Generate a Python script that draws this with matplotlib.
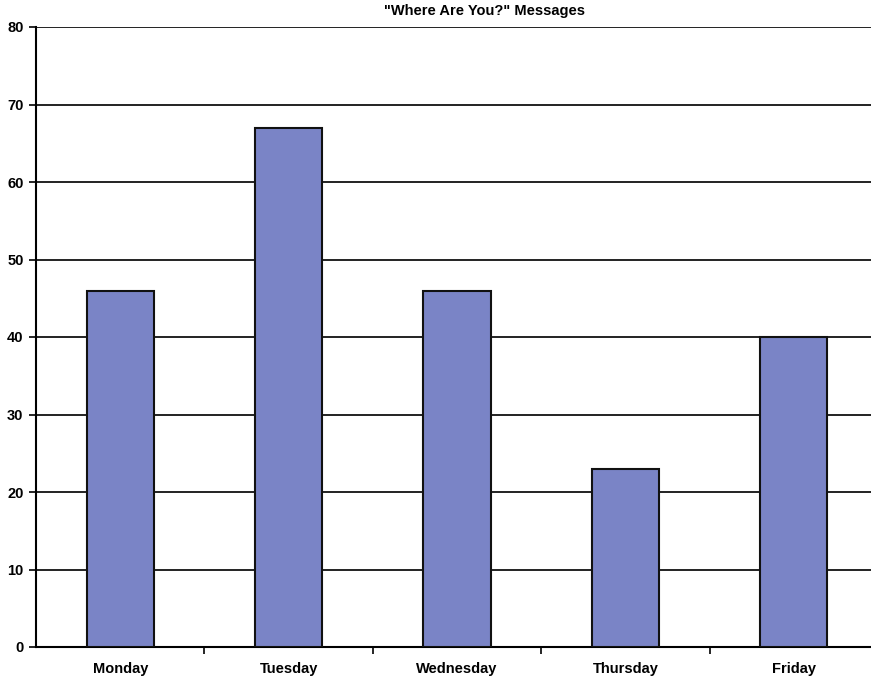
import matplotlib
matplotlib.use("Agg")
import matplotlib.pyplot as plt
import numpy as np

plt.rcParams['font.family'] = ['Liberation Sans', 'DejaVu Sans']

days = ['Monday', 'Tuesday', 'Wednesday', 'Thursday', 'Friday']
messages = [46, 67, 46, 23, 40]

fig = plt.figure(figsize=(8.71, 6.79), dpi=100)
# axes run a little past the right edge of the figure
ax = fig.add_axes([36 / 871, 32 / 679, 842 / 871, 620 / 679])

x = np.arange(len(days))
ax.bar(x, messages, width=0.4, color='#7A84C6', edgecolor='#111111', linewidth=1.5, zorder=3)

ax.set_xlim(-0.5, len(days) - 0.5)
ax.set_ylim(0, 80)
ax.set_yticks(range(0, 81, 10))
ax.yaxis.grid(True, color='#222222', linewidth=1.4, zorder=0)

ax.set_xticks(x)
ax.set_xticklabels(days, fontsize=10.5, fontweight='bold')
ax.tick_params(axis='x', length=0, pad=11)
ax.set_xticks(np.arange(0.5, len(days) - 0.5, 1), minor=True)
ax.tick_params(axis='x', which='minor', length=5, width=1.2, direction='out')
ax.tick_params(axis='y', length=5, width=1.2, labelsize=10.5, pad=4)
for lbl in ax.get_yticklabels():
    lbl.set_fontweight('bold')

for side in ['top', 'right']:
    ax.spines[side].set_visible(False)
ax.spines['left'].set_linewidth(1.5)
ax.spines['bottom'].set_linewidth(1.5)

fig.text(485 / 871, 1 - 11 / 679, '"Where Are You?" Messages', ha='center', va='center',
         fontsize=10.5, fontweight='bold')

fig.savefig('out.png', dpi=100)
